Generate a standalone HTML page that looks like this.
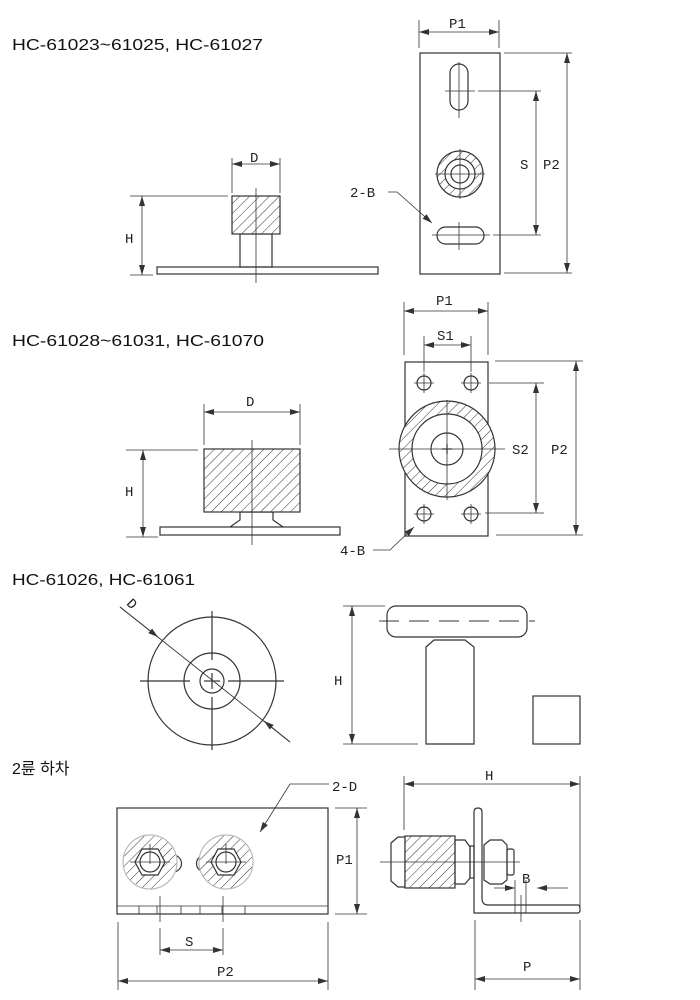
<!DOCTYPE html>
<html><head><meta charset="utf-8"><style>
html,body{margin:0;padding:0;background:#fff;width:700px;height:1000px;overflow:hidden}
svg{display:block}
.t{font-family:"Liberation Sans","Noto Sans CJK KR",sans-serif;font-size:16px;fill:#111}
.l{font-family:"Liberation Mono","DejaVu Sans Mono",monospace;font-size:14px;fill:#222}
</style></head><body>
<svg width="700" height="1000" viewBox="0 0 700 1000" xmlns="http://www.w3.org/2000/svg">
<defs>
<pattern id="h" width="7" height="7" patternUnits="userSpaceOnUse" patternTransform="rotate(45)">
<rect width="7" height="7" fill="#fff"/><line x1="0" y1="0" x2="0" y2="7" stroke="#333" stroke-width="1"/></pattern>
<marker id="a" viewBox="0 0 10 6" refX="10" refY="3" markerWidth="10" markerHeight="6" orient="auto-start-reverse" markerUnits="userSpaceOnUse"><path d="M0,0L10,3L0,6z" fill="#333"/></marker>
</defs>
<g class="t">
<text x="12" y="50" textLength="251" lengthAdjust="spacingAndGlyphs">HC-61023~61025, HC-61027</text>
<text x="12" y="346" textLength="252" lengthAdjust="spacingAndGlyphs">HC-61028~61031, HC-61070</text>
<text x="12" y="585" textLength="183" lengthAdjust="spacingAndGlyphs">HC-61026, HC-61061</text>
<text x="12" y="774">2륜 하차</text>
</g>
<g fill="none" stroke="#333" stroke-width="1.2">
<!-- Section 1 left -->
<rect x="157" y="267" width="221" height="7"/>
<rect x="240" y="234" width="32" height="33"/>
<rect x="232" y="196" width="48" height="38" fill="url(#h)"/>
<line x1="256" y1="188" x2="256" y2="283" stroke-width="0.8"/>
<line x1="232" y1="158" x2="232" y2="193" stroke-width="0.8"/><line x1="280" y1="158" x2="280" y2="193" stroke-width="0.8"/>
<line x1="232" y1="164" x2="280" y2="164" stroke-width="0.8" marker-start="url(#a)" marker-end="url(#a)"/>
<line x1="130" y1="196" x2="228" y2="196" stroke-width="0.8"/><line x1="130" y1="275" x2="153" y2="275" stroke-width="0.8"/>
<line x1="142" y1="196" x2="142" y2="275" stroke-width="0.8" marker-start="url(#a)" marker-end="url(#a)"/>
<!-- Section 1 right -->
<rect x="420" y="53" width="80" height="221"/>
<rect x="450" y="64" width="18" height="46" rx="9"/>
<line x1="445" y1="91" x2="475" y2="91" stroke-width="0.8"/><line x1="459" y1="62" x2="459" y2="118" stroke-width="0.8"/>
<circle cx="460" cy="174" r="23" fill="url(#h)"/><circle cx="460" cy="174" r="15" fill="#fff"/><circle cx="460" cy="174" r="9"/>
<line x1="435" y1="174" x2="485" y2="174" stroke-width="0.8"/><line x1="460" y1="149" x2="460" y2="199" stroke-width="0.8"/>
<rect x="437" y="227" width="47" height="17" rx="8.5"/>
<line x1="432" y1="235" x2="490" y2="235" stroke-width="0.8"/><line x1="459" y1="222" x2="459" y2="250" stroke-width="0.8"/>
<line x1="419" y1="20" x2="419" y2="48" stroke-width="0.8"/><line x1="499" y1="20" x2="499" y2="48" stroke-width="0.8"/>
<line x1="419" y1="32" x2="499" y2="32" stroke-width="0.8" marker-start="url(#a)" marker-end="url(#a)"/>
<line x1="478" y1="91" x2="541" y2="91" stroke-width="0.8"/><line x1="493" y1="235" x2="541" y2="235" stroke-width="0.8"/>
<line x1="536" y1="91" x2="536" y2="235" stroke-width="0.8" marker-start="url(#a)" marker-end="url(#a)"/>
<line x1="504" y1="53" x2="572" y2="53" stroke-width="0.8"/><line x1="504" y1="273" x2="572" y2="273" stroke-width="0.8"/>
<line x1="567" y1="53" x2="567" y2="273" stroke-width="0.8" marker-start="url(#a)" marker-end="url(#a)"/>
<polyline points="388,192 397,192 432,223" stroke-width="0.8" marker-end="url(#a)"/>
<!-- Section 2 left -->
<rect x="160" y="527" width="180" height="8"/>
<path d="M230,527 L240,520 L240,512 L273,512 L273,520 L283,527"/>
<rect x="204" y="449" width="96" height="63" fill="url(#h)"/>
<line x1="252" y1="440" x2="252" y2="545" stroke-width="0.8"/>
<line x1="204" y1="404" x2="204" y2="445" stroke-width="0.8"/><line x1="300" y1="404" x2="300" y2="445" stroke-width="0.8"/>
<line x1="204" y1="412" x2="300" y2="412" stroke-width="0.8" marker-start="url(#a)" marker-end="url(#a)"/>
<line x1="126" y1="450" x2="198" y2="450" stroke-width="0.8"/><line x1="126" y1="537" x2="158" y2="537" stroke-width="0.8"/>
<line x1="143" y1="450" x2="143" y2="537" stroke-width="0.8" marker-start="url(#a)" marker-end="url(#a)"/>
<!-- Section 2 right -->
<rect x="405" y="362" width="83" height="174"/>
<circle cx="447" cy="449" r="48" fill="url(#h)"/><circle cx="447" cy="449" r="35" fill="#fff"/><circle cx="447" cy="449" r="16"/>
<line x1="389" y1="449" x2="505" y2="449" stroke-width="0.8"/><line x1="447" y1="400" x2="447" y2="500" stroke-width="0.8"/>
<line x1="442" y1="449" x2="452" y2="449"/><line x1="447" y1="444" x2="447" y2="454"/>
<g>
<circle cx="424" cy="383" r="7"/><circle cx="471" cy="383" r="7"/><circle cx="424" cy="514" r="7"/><circle cx="471" cy="514" r="7"/>
<path d="M414,383h20M424,373v20M461,383h20M471,373v20M414,514h20M424,504v20M461,514h20M471,504v20" stroke-width="0.8"/>
</g>
<line x1="404" y1="302" x2="404" y2="355" stroke-width="0.8"/><line x1="488" y1="302" x2="488" y2="355" stroke-width="0.8"/>
<line x1="404" y1="311" x2="488" y2="311" stroke-width="0.8" marker-start="url(#a)" marker-end="url(#a)"/>
<line x1="424" y1="336" x2="424" y2="372" stroke-width="0.8"/><line x1="471" y1="336" x2="471" y2="372" stroke-width="0.8"/>
<line x1="424" y1="345" x2="471" y2="345" stroke-width="0.8" marker-start="url(#a)" marker-end="url(#a)"/>
<line x1="489" y1="383" x2="544" y2="383" stroke-width="0.8"/><line x1="485" y1="513" x2="544" y2="513" stroke-width="0.8"/>
<line x1="536" y1="383" x2="536" y2="513" stroke-width="0.8" marker-start="url(#a)" marker-end="url(#a)"/>
<line x1="495" y1="361" x2="583" y2="361" stroke-width="0.8"/><line x1="496" y1="535" x2="583" y2="535" stroke-width="0.8"/>
<line x1="576" y1="361" x2="576" y2="535" stroke-width="0.8" marker-start="url(#a)" marker-end="url(#a)"/>
<polyline points="373,550 390,550 414,527" stroke-width="0.8" marker-end="url(#a)"/>
<!-- Section 3 -->
<circle cx="212" cy="681" r="64"/><circle cx="212" cy="681" r="28"/><circle cx="212" cy="681" r="12"/>
<line x1="140" y1="681" x2="190" y2="681"/><line x1="228" y1="681" x2="284" y2="681"/>
<line x1="212" y1="611" x2="212" y2="660"/><line x1="212" y1="697" x2="212" y2="750"/>
<line x1="204" y1="681" x2="220" y2="681"/><line x1="212" y1="673" x2="212" y2="689"/>
<line x1="120" y1="607" x2="290" y2="742" stroke-width="0.9"/>
<line x1="120" y1="607" x2="158" y2="637" stroke-width="0.9" marker-end="url(#a)"/>
<line x1="290" y1="742" x2="264" y2="721" stroke-width="0.9" marker-end="url(#a)"/>
<rect x="387" y="606" width="140" height="31" rx="9"/>
<line x1="379" y1="621" x2="535" y2="621" stroke-dasharray="20,10" stroke-width="0.9"/>
<path d="M426,647 L434,640 L465,640 L474,647 L474,744 L426,744 Z"/>
<line x1="343" y1="606" x2="385" y2="606" stroke-width="0.8"/><line x1="343" y1="744" x2="418" y2="744" stroke-width="0.8"/>
<line x1="352" y1="606" x2="352" y2="744" stroke-width="0.8" marker-start="url(#a)" marker-end="url(#a)"/>
<rect x="533" y="696" width="47" height="48"/>
<!-- Section 4 left -->
<rect x="117" y="808" width="211" height="106"/>
<line x1="117" y1="906" x2="328" y2="906" stroke-width="0.8"/>
<path d="M139,906v8M157,906v8M181,906v8M200,906v8M222,906v8M245,906v8" stroke-width="0.8"/>
<path d="M173,855 a8,8 0 0 1 0,17"/><path d="M205,855 a8,8 0 0 0 0,17"/>
<circle cx="150" cy="862" r="27" fill="url(#h)" stroke="#bbb"/><circle cx="226" cy="862" r="27" fill="url(#h)" stroke="#bbb"/>
<polygon points="142,849 158,849 165,862 158,875 142,875 135,862" fill="#fff"/><circle cx="150" cy="862" r="10"/>
<polygon points="218,849 234,849 241,862 234,875 218,875 211,862" fill="#fff"/><circle cx="226" cy="862" r="10"/>
<path d="M130,862h40M150,844v20M206,862h40M226,844v20" stroke-width="0.8"/>
<line x1="160" y1="896" x2="160" y2="922" stroke-width="0.8"/><line x1="223" y1="896" x2="223" y2="922" stroke-width="0.8"/>
<line x1="160" y1="950" x2="223" y2="950" stroke-width="0.8" marker-start="url(#a)" marker-end="url(#a)"/>
<line x1="160" y1="928" x2="160" y2="955" stroke-width="0.8"/><line x1="223" y1="928" x2="223" y2="955" stroke-width="0.8"/>
<line x1="118" y1="922" x2="118" y2="990" stroke-width="0.8"/><line x1="328" y1="922" x2="328" y2="990" stroke-width="0.8"/>
<line x1="118" y1="981" x2="328" y2="981" stroke-width="0.8" marker-start="url(#a)" marker-end="url(#a)"/>
<line x1="335" y1="808" x2="367" y2="808" stroke-width="0.8"/><line x1="335" y1="914" x2="367" y2="914" stroke-width="0.8"/>
<line x1="357" y1="808" x2="357" y2="914" stroke-width="0.8" marker-start="url(#a)" marker-end="url(#a)"/>
<polyline points="329,784 290,784 260,832" stroke-width="0.8" marker-end="url(#a)"/>
<!-- Section 4 right -->
<line x1="404" y1="776" x2="404" y2="830" stroke-width="0.8"/><line x1="580" y1="776" x2="580" y2="912" stroke-width="0.8"/>
<line x1="404" y1="784" x2="580" y2="784" stroke-width="0.8" marker-start="url(#a)" marker-end="url(#a)"/>
<path d="M391,843 L398,837 L405,837 L405,887 L398,887 L391,881 Z"/>
<rect x="405" y="836" width="50" height="52" fill="url(#h)"/>
<path d="M455,840 L465,840 L470,847 L470,878 L465,884 L455,884 Z"/>
<rect x="470" y="846" width="4" height="32"/>
<path d="M474,812 Q474,808 478,808 Q482,808 482,812 L482,898 Q482,905 488,905 L578,905 Q580,905 580,909 Q580,913 578,913 L474,913 Z"/>
<path d="M484,845 L490,840 L502,840 L507,845 L507,880 L502,884 L490,884 L484,880 Z"/>
<rect x="507" y="849" width="7" height="26" rx="2"/>
<line x1="380" y1="862" x2="520" y2="862" stroke-width="0.8"/>
<line x1="515" y1="880" x2="515" y2="913" stroke-width="0.8"/><line x1="526" y1="880" x2="526" y2="913" stroke-width="0.8"/>
<line x1="521" y1="895" x2="521" y2="922" stroke-width="0.8"/>
<line x1="494" y1="888" x2="515" y2="888" stroke-width="0.8" marker-end="url(#a)"/>
<line x1="568" y1="888" x2="537" y2="888" stroke-width="0.8" marker-end="url(#a)"/>
<line x1="475" y1="920" x2="475" y2="990" stroke-width="0.8"/><line x1="580" y1="920" x2="580" y2="990" stroke-width="0.8"/>
<line x1="475" y1="979" x2="580" y2="979" stroke-width="0.8" marker-start="url(#a)" marker-end="url(#a)"/>
</g>
<g class="l">
<text x="250" y="162">D</text>
<text x="125" y="243">H</text>
<text x="449" y="28">P1</text>
<text x="520" y="169">S</text>
<text x="543" y="169">P2</text>
<text x="350" y="197">2-B</text>
<text x="246" y="406">D</text>
<text x="125" y="496">H</text>
<text x="436" y="305">P1</text>
<text x="437" y="340">S1</text>
<text x="512" y="454">S2</text>
<text x="551" y="454">P2</text>
<text x="340" y="555">4-B</text>
<text x="128" y="609" transform="rotate(45 133 604)">D</text>
<text x="334" y="685">H</text>
<text x="332" y="791">2-D</text>
<text x="336" y="864">P1</text>
<text x="185" y="946">S</text>
<text x="217" y="976">P2</text>
<text x="485" y="780">H</text>
<text x="522" y="883">B</text>
<text x="523" y="971">P</text>
</g>
</svg>
</body></html>
